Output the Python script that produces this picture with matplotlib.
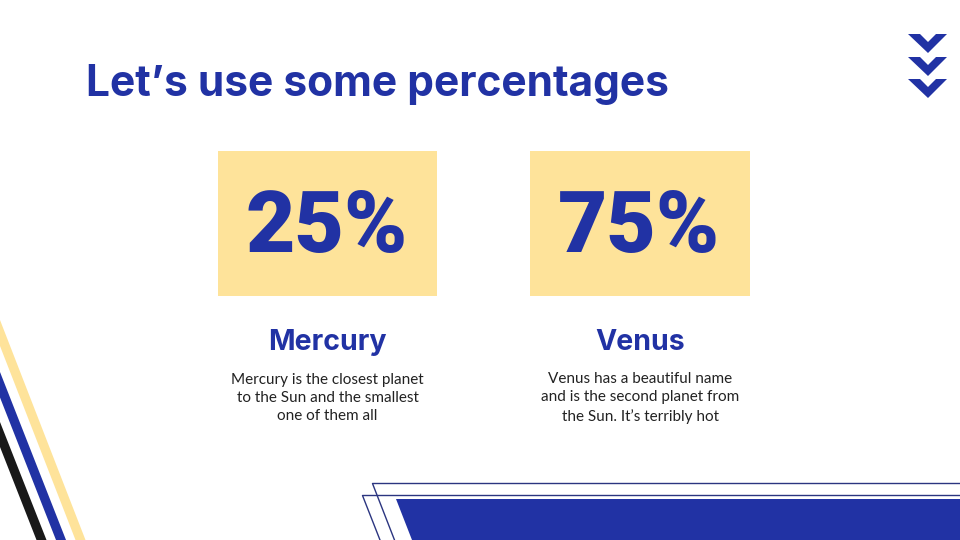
import matplotlib.pyplot as plt
from matplotlib.patches import Polygon, Rectangle

title = "Let\u2019s use some percentages"
planets = ["Mercury", "Venus"]
percents = [25, 75]
descriptions = [
    "Mercury is the closest planet\nto the Sun and the smallest\none of them all",
    "Venus has a beautiful name\nand is the second planet from\nthe Sun. It\u2019s terribly hot",
]

BLUE = "#2132a4"
YELLOW = "#fee39a"
BLACK = "#191919"
HEAD_FONT = ["Inter", "Open Sans", "DejaVu Sans"]
BODY_FONT = ["Lato", "DejaVu Sans"]

fig = plt.figure(figsize=(9.6, 5.4), dpi=100, facecolor="white")
ax = fig.add_axes([0, 0, 1, 1])
# axes in slide pixels, y going down
ax.set_xlim(0, 960)
ax.set_ylim(540, 0)
ax.axis("off")

ax.text(86, 96, title, color=BLUE, fontsize=30.6, fontweight="bold",
        family=HEAD_FONT, ha="left", va="baseline")

# the two cards
card_left = [218, 530]
card_width = [219, 220]
for i, planet in enumerate(planets):
    cx = card_left[i] + card_width[i] / 2
    ax.add_patch(Rectangle((card_left[i], 151), card_width[i], 145, color=YELLOW, lw=0))
    ax.text(cx - 1, 252, f"{percents[i]}%", color=BLUE, fontsize=61.5, fontweight=900,
            family=["Roboto", "DejaVu Sans"], ha="center", va="baseline")
    ax.text(cx, 350, planet, color=BLUE, fontsize=20.5, fontweight="bold",
            family=HEAD_FONT, ha="center", va="baseline")
    ax.text(cx, 398, descriptions[i], color="#222222", fontsize=11, family=BODY_FONT,
            ha="center", va="center", linespacing=1.4)

# chevrons, top right
for top in [34, 57, 79]:
    ax.add_patch(Polygon([(908, top), (920, top), (928, top + 8), (936, top), (947, top),
                          (928, top + 19)], color=BLUE, lw=0))

# diagonal stripes, bottom left
ax.add_patch(Polygon([(0, 320), (85.5, 540), (75.5, 540), (0, 346)], color=YELLOW, lw=0))
ax.add_patch(Polygon([(0, 372), (66, 540), (56, 540), (0, 397.5)], color=BLUE, lw=0))
ax.add_patch(Polygon([(0, 422), (46.5, 540), (36.5, 540), (0, 447)], color=BLACK, lw=0))

# outlined bands and filled band, bottom
ax.plot([960, 372.5, 394.5], [483.5, 483.5, 540], color="#2b3580", lw=1)
ax.plot([960, 362.5, 380], [495.5, 495.5, 540], color="#2b3580", lw=1)
ax.add_patch(Polygon([(396, 499), (960, 499), (960, 540), (412, 540)], color=BLUE, lw=0))

fig.savefig("out.png", dpi=100)
